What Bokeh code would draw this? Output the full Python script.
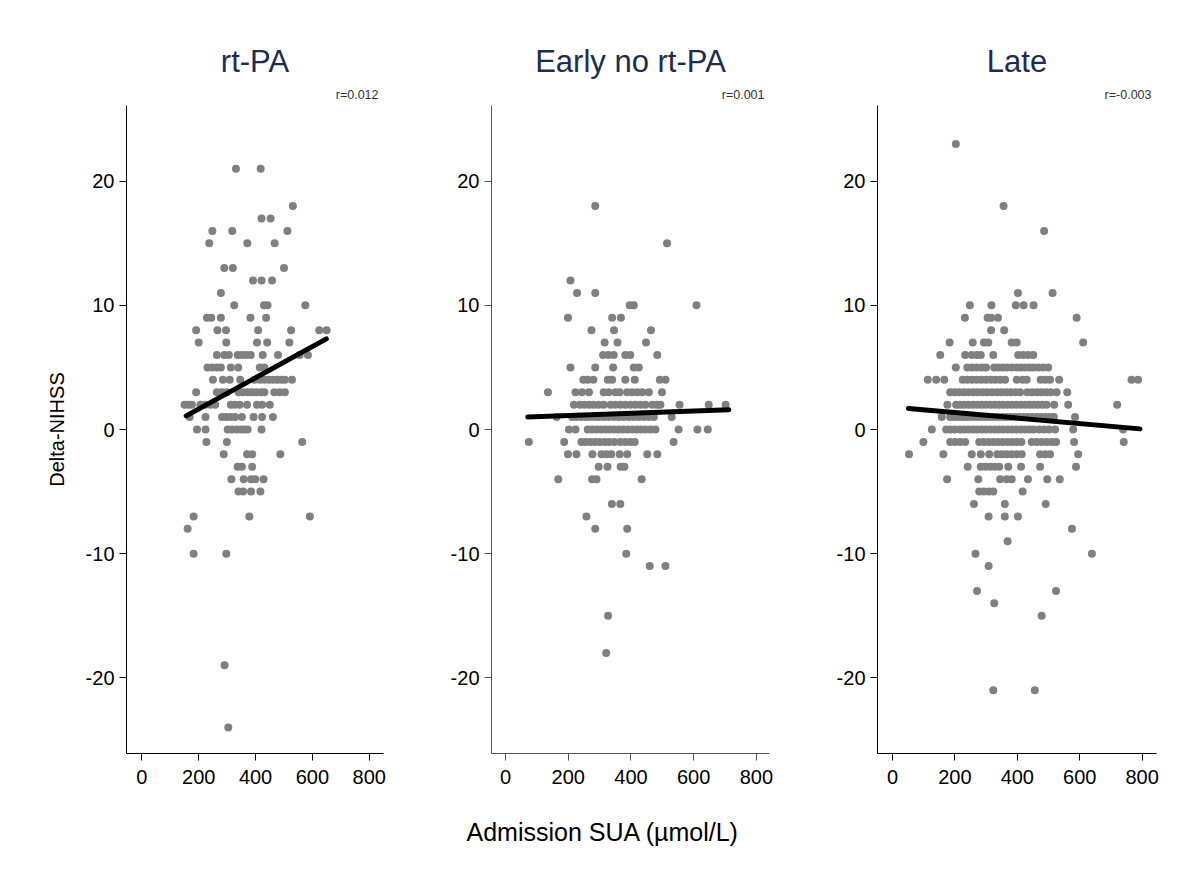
from bokeh.plotting import figure
from bokeh.layouts import row
from bokeh.models import Range1d, Title, FixedTicker
from bokeh.embed import file_html
from bokeh.resources import INLINE

# ---------------- data ----------------
titles = ["rt-PA", "Early no rt-PA", "Late"]
r_texts = ["r=0.012", "r=0.001", "r=-0.003"]
x_ticks = [0, 200, 400, 600, 800]
y_ticks = [-20, -10, 0, 10, 20]
y_tick_labels = {-20: "-20", -10: "-10", 0: "0", 10: "10", 20: "20"}

rtpa_sua = [331, 418, 531, 421, 453, 248, 318, 512, 237, 371, 467, 290, 320, 500,
            391, 421, 458, 278, 325, 430, 442, 575, 229, 244, 278, 382, 437,
            191, 266, 296, 409, 525, 624, 650, 200, 297, 405, 441, 519,
            264, 290, 306, 337, 352, 367, 383, 425, 479, 555, 584,
            231, 247, 264, 278, 313, 339, 415, 431,
            250, 285, 309, 346, 396, 415, 431, 446, 461, 476, 491, 503, 528,
            191, 264, 282, 299, 340, 356, 372, 387, 402, 419, 431, 466, 485, 503,
            150, 164, 176, 206, 223, 241, 258, 313, 328, 344, 370, 405, 423, 450,
            168, 224, 282, 297, 313, 328, 352, 393, 423, 461,
            194, 224, 302, 317, 333, 347, 361, 372, 421,
            227, 299, 564, 288, 370, 388, 487, 337, 352, 388,
            315, 358, 384, 399, 428, 340, 356, 384, 417,
            182, 378, 591, 161, 182, 297, 291, 304]
rtpa_delta = [21, 21, 18, 17, 17, 16, 16, 16, 15, 15, 15, 13, 13, 13,
              12, 12, 12, 11, 10, 10, 10, 10, 9, 9, 9, 9, 9,
              8, 8, 8, 8, 8, 8, 8, 7, 7, 7, 7, 7,
              6, 6, 6, 6, 6, 6, 6, 6, 6, 6, 6,
              5, 5, 5, 5, 5, 5, 5, 5,
              4, 4, 4, 4, 4, 4, 4, 4, 4, 4, 4, 4, 4,
              3, 3, 3, 3, 3, 3, 3, 3, 3, 3, 3, 3, 3, 3,
              2, 2, 2, 2, 2, 2, 2, 2, 2, 2, 2, 2, 2, 2,
              1, 1, 1, 1, 1, 1, 1, 1, 1, 1,
              0, 0, 0, 0, 0, 0, 0, 0, 0,
              -1, -1, -1, -2, -2, -2, -2, -3, -3, -3,
              -4, -4, -4, -4, -4, -5, -5, -5, -5,
              -7, -7, -7, -8, -10, -10, -19, -24]
rtpa_fit_x = [156, 649]
rtpa_fit_y = [1.1, 7.3]

early_sua = [286, 515, 207, 228, 286, 396, 409, 609, 199, 340, 368, 274, 346, 464,
             316, 357, 448, 311, 328, 345, 382, 398, 484,
             207, 286, 343, 409, 425,
             248, 262, 280, 326, 340, 382, 412, 492, 510,
             135, 223, 244, 266, 313, 329, 351, 364, 388, 404, 420, 436, 457, 499,
             218, 237, 252, 267, 281, 297, 313, 335, 350, 366, 382, 398, 414, 430,
             446, 468, 483, 494, 555, 648, 702,
             163, 212, 226, 241, 255, 269, 284, 297, 313, 329, 345, 361, 377, 393,
             409, 425, 441, 457, 473, 530,
             202, 223, 262, 276, 290, 305, 319, 332, 345, 361, 375, 390, 404, 418,
             432, 446, 462, 478, 552, 612, 645,
             74, 187, 242, 256, 271, 286, 300, 316, 330, 347, 366, 382, 398, 412, 536,
             199, 226, 277, 306, 322, 337, 364, 388, 452, 484,
             297, 325, 367, 379, 168, 276, 290, 434,
             339, 366, 258, 286, 388, 385, 460, 510, 327, 321]
early_delta = [18, 15, 12, 11, 11, 10, 10, 10, 9, 9, 9, 8, 8, 8,
               7, 7, 7, 6, 6, 6, 6, 6, 6,
               5, 5, 5, 5, 5,
               4, 4, 4, 4, 4, 4, 4, 4, 4,
               3, 3, 3, 3, 3, 3, 3, 3, 3, 3, 3, 3, 3, 3,
               2, 2, 2, 2, 2, 2, 2, 2, 2, 2, 2, 2, 2, 2,
               2, 2, 2, 2, 2, 2, 2,
               1, 1, 1, 1, 1, 1, 1, 1, 1, 1, 1, 1, 1, 1,
               1, 1, 1, 1, 1, 1,
               0, 0, 0, 0, 0, 0, 0, 0, 0, 0, 0, 0, 0, 0,
               0, 0, 0, 0, 0, 0, 0,
               -1, -1, -1, -1, -1, -1, -1, -1, -1, -1, -1, -1, -1, -1, -1,
               -2, -2, -2, -2, -2, -2, -2, -2, -2, -2,
               -3, -3, -3, -3, -4, -4, -4, -4,
               -6, -6, -7, -8, -8, -10, -11, -11, -15, -18]
early_fit_x = [71, 712]
early_fit_y = [1.0, 1.6]

late_sua = [203, 356, 486, 402, 513, 248, 317, 395, 420, 452,
            232, 305, 316, 338, 590, 316, 358,
            183, 257, 293, 307, 382, 398, 611,
            153, 233, 254, 270, 283, 323, 403, 419, 435, 451,
            203, 240, 254, 270, 286, 300, 326, 339, 353, 366, 382, 398, 411, 425,
            439, 451, 467, 483, 499,
            113, 140, 166, 225, 240, 255, 270, 285, 300, 315, 330, 345, 361, 398,
            417, 430, 475, 490, 505, 534, 766, 787,
            185, 200, 214, 229, 244, 259, 274, 289, 304, 319, 334, 349, 364, 379,
            394, 409, 432, 447, 462, 477, 492, 507, 526, 560,
            176, 204, 217, 230, 244, 258, 272, 286, 300, 314, 328, 341, 355, 369,
            383, 397, 411, 425, 439, 452, 466, 480, 494, 518, 563, 720,
            158, 185, 198, 212, 226, 240, 254, 268, 282, 296, 309, 323, 337, 351,
            365, 379, 393, 406, 420, 434, 448, 462, 476, 490, 504, 517, 585,
            126, 172, 186, 200, 217, 230, 244, 258, 272, 286, 300, 314, 328, 341,
            355, 369, 383, 397, 411, 425, 439, 452, 470, 486, 502, 521, 579, 739,
            99, 185, 201, 217, 233, 278, 293, 308, 323, 338, 353, 368, 383, 398,
            413, 446, 462, 478, 494, 510, 524, 582, 741,
            53, 163, 254, 283, 310, 336, 351, 366, 382, 398, 414, 473, 489, 505, 595,
            241, 283, 298, 313, 328, 342, 371, 412, 473, 588,
            175, 275, 345, 366, 382, 434, 496, 536,
            278, 293, 308, 323, 417, 261, 360, 491, 308, 360, 402,
            575, 369, 266, 639, 308, 271, 524, 326, 478, 323, 456]
late_delta = [23, 18, 16, 11, 11, 10, 10, 10, 10, 10,
              9, 9, 9, 9, 9, 8, 8,
              7, 7, 7, 7, 7, 7, 7,
              6, 6, 6, 6, 6, 6, 6, 6, 6, 6,
              5, 5, 5, 5, 5, 5, 5, 5, 5, 5, 5, 5, 5, 5,
              5, 5, 5, 5, 5,
              4, 4, 4, 4, 4, 4, 4, 4, 4, 4, 4, 4, 4, 4,
              4, 4, 4, 4, 4, 4, 4, 4,
              3, 3, 3, 3, 3, 3, 3, 3, 3, 3, 3, 3, 3, 3,
              3, 3, 3, 3, 3, 3, 3, 3, 3, 3,
              2, 2, 2, 2, 2, 2, 2, 2, 2, 2, 2, 2, 2, 2,
              2, 2, 2, 2, 2, 2, 2, 2, 2, 2, 2, 2,
              1, 1, 1, 1, 1, 1, 1, 1, 1, 1, 1, 1, 1, 1,
              1, 1, 1, 1, 1, 1, 1, 1, 1, 1, 1, 1, 1,
              0, 0, 0, 0, 0, 0, 0, 0, 0, 0, 0, 0, 0, 0,
              0, 0, 0, 0, 0, 0, 0, 0, 0, 0, 0, 0, 0, 0,
              -1, -1, -1, -1, -1, -1, -1, -1, -1, -1, -1, -1, -1, -1,
              -1, -1, -1, -1, -1, -1, -1, -1, -1,
              -2, -2, -2, -2, -2, -2, -2, -2, -2, -2, -2, -2, -2, -2, -2,
              -3, -3, -3, -3, -3, -3, -3, -3, -3, -3,
              -4, -4, -4, -4, -4, -4, -4, -4,
              -5, -5, -5, -5, -5, -6, -6, -6, -7, -7, -7,
              -8, -9, -10, -10, -11, -13, -13, -14, -15, -21, -21]
late_fit_x = [51, 793]
late_fit_y = [1.7, 0.05]

FONT = "Liberation Sans"
TITLE_COLOR = "#1e2c50"
POINT_COLOR = "#808080"


def make_panel(xs, ys, fx, fy, title, rtext, xr, frame_w, bl, br,
               ylabel=None, axis_color="black", xlabel=None):
    p = figure(frame_width=frame_w, frame_height=648,
               x_range=Range1d(*xr), y_range=Range1d(-26.1, 26.1),
               output_backend="svg", toolbar_location=None, title=None,
               min_border_left=bl, min_border_right=br,
               min_border_top=105, min_border_bottom=120)
    p.outline_line_color = None
    p.grid.visible = False
    p.background_fill_color = "white"
    p.border_fill_color = "white"

    p.scatter(xs, ys, size=8, fill_color=POINT_COLOR, line_color=None)
    p.line(fx, fy, line_width=5, line_color="black", line_cap="round")

    for ax in (p.xaxis[0], p.yaxis[0]):
        ax.axis_line_color = axis_color
        ax.major_tick_line_color = axis_color
        ax.major_tick_out = 7
        ax.major_tick_in = 0
        ax.minor_tick_line_color = None
        ax.major_label_text_font = FONT
        ax.major_label_text_font_size = "20px"
        ax.major_label_text_color = "black"
    p.xaxis.ticker = FixedTicker(ticks=x_ticks)
    p.yaxis.ticker = FixedTicker(ticks=y_ticks)
    p.yaxis.major_label_overrides = y_tick_labels
    p.xaxis.major_label_standoff = 9
    p.yaxis.major_label_standoff = 5

    if ylabel:
        p.yaxis.axis_label = ylabel
        p.yaxis.axis_label_text_font = FONT
        p.yaxis.axis_label_text_font_size = "20px"
        p.yaxis.axis_label_text_font_style = "normal"
        p.yaxis.axis_label_text_color = "black"
        p.yaxis.axis_label_standoff = 15

    p.add_layout(Title(text=rtext, align="right", text_font=FONT,
                       text_font_size="12.5px", text_font_style="normal",
                       text_color="#333333", standoff=8, offset=5), "above")
    p.add_layout(Title(text=title, align="center", text_font=FONT,
                       text_font_size="31px", text_font_style="normal",
                       text_color=TITLE_COLOR, standoff=6), "above")
    if xlabel:
        p.add_layout(Title(text=xlabel, align="left", text_font=FONT,
                           text_font_size="25px", text_font_style="normal",
                           text_color="black", standoff=59, offset=-25), "below")
    return p


p1 = make_panel(rtpa_sua, rtpa_delta, rtpa_fit_x, rtpa_fit_y, titles[0], r_texts[0],
                (-54, 850), 257, 126, 20, ylabel="Delta-NIHSS")
p2 = make_panel(early_sua, early_delta, early_fit_x, early_fit_y, titles[1], r_texts[1],
                (-45, 842), 278, 88, 20, axis_color="#555555",
                xlabel="Admission SUA (µmol/L)")
p3 = make_panel(late_sua, late_delta, late_fit_x, late_fit_y, titles[2], r_texts[2],
                (-48, 846), 279, 88, 20)

layout = row(p1, p2, p3)
open("out.html", "w").write(file_html(layout, INLINE))
